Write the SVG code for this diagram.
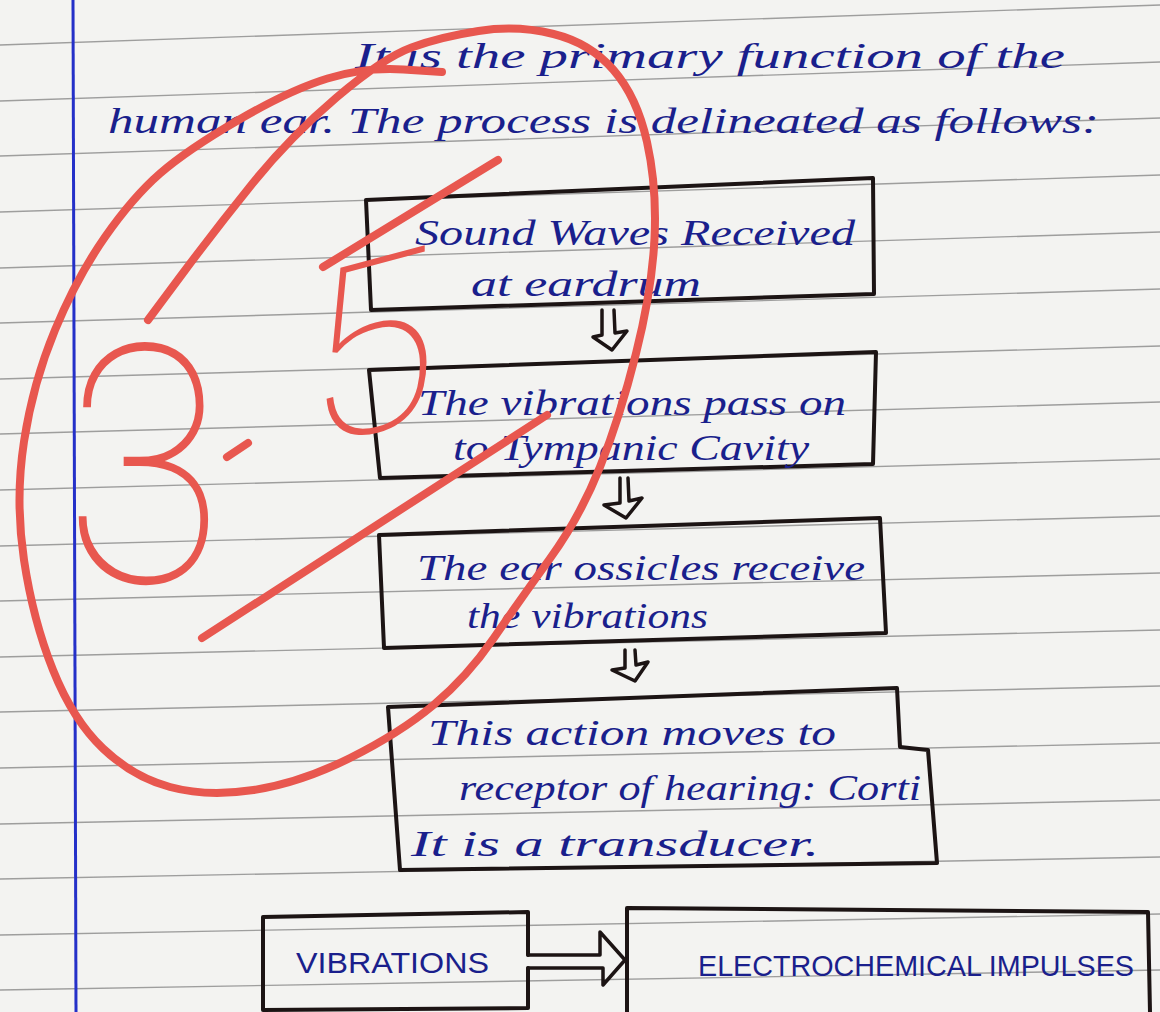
<svg xmlns="http://www.w3.org/2000/svg" width="1160" height="1012" viewBox="0 0 1160 1012">
<defs>
<style>
.rule{stroke:#8e8e8e;stroke-width:1.4;fill:none;opacity:.85}
.margin{stroke:#2430c8;stroke-width:3;fill:none}
.box{fill:none;stroke:#1c1414;stroke-width:4;stroke-linejoin:round;stroke-linecap:round}
.arr{fill:none;stroke:#1c1414;stroke-width:3.5;stroke-linejoin:round;stroke-linecap:round}
.ink{font-family:"Liberation Serif","DejaVu Serif",serif;font-style:italic;font-size:36px;fill:#1a1f8c}
.caps{font-family:"Liberation Sans","DejaVu Sans",sans-serif;font-size:30px;fill:#1a1f8c}
.red{fill:none;stroke:#e8574f;stroke-width:8;stroke-linecap:round;stroke-linejoin:round}
.redtxt{font-family:Roboto,Lato,Inter,sans-serif;font-weight:100;fill:#e8574f}
</style>
</defs>
<rect width="1160" height="1012" fill="#f3f3f1"/>
<g id="ruled-lines">
<line class="rule" x1="0" y1="45" x2="1160" y2="5"/>
<line class="rule" x1="0" y1="101" x2="1160" y2="62"/>
<line class="rule" x1="0" y1="156" x2="1160" y2="118"/>
<line class="rule" x1="0" y1="212" x2="1160" y2="175"/>
<line class="rule" x1="0" y1="268" x2="1160" y2="232"/>
<line class="rule" x1="0" y1="323" x2="1160" y2="289"/>
<line class="rule" x1="0" y1="379" x2="1160" y2="346"/>
<line class="rule" x1="0" y1="434" x2="1160" y2="402"/>
<line class="rule" x1="0" y1="490" x2="1160" y2="459"/>
<line class="rule" x1="0" y1="546" x2="1160" y2="516"/>
<line class="rule" x1="0" y1="601" x2="1160" y2="573"/>
<line class="rule" x1="0" y1="657" x2="1160" y2="630"/>
<line class="rule" x1="0" y1="712" x2="1160" y2="686"/>
<line class="rule" x1="0" y1="768" x2="1160" y2="743"/>
<line class="rule" x1="0" y1="824" x2="1160" y2="800"/>
<line class="rule" x1="0" y1="879" x2="1160" y2="857"/>
<line class="rule" x1="0" y1="935" x2="1160" y2="914"/>
<line class="rule" x1="0" y1="990" x2="1160" y2="970"/>
</g>
<path class="margin" d="M73,0 L76,1012"/>

<g id="intro">
<text class="ink" x="355" y="68" textLength="710" lengthAdjust="spacingAndGlyphs">It is the primary function of the</text>
<text class="ink" x="108" y="133" textLength="991" lengthAdjust="spacingAndGlyphs">human ear. The process is delineated as follows:</text>
</g>

<g id="node-sound-waves">
<path class="box" d="M366,200 L873,178 L874,294 L371,310 Z"/>
<text class="ink" x="415" y="245" textLength="440" lengthAdjust="spacingAndGlyphs">Sound Waves Received</text>
<text class="ink" x="471" y="296" textLength="230" lengthAdjust="spacingAndGlyphs">at eardrum</text>
</g>

<g id="node-tympanic">
<path class="box" d="M369,370 L876,352 L873,464 L380,478 Z"/>
<text class="ink" x="418" y="415" textLength="428" lengthAdjust="spacingAndGlyphs">The vibrations pass on</text>
<text class="ink" x="453" y="460" textLength="356" lengthAdjust="spacingAndGlyphs">to Tympanic Cavity</text>
</g>

<g id="node-ossicles">
<path class="box" d="M379,535 L880,518 L886,633 L384,648 Z"/>
<text class="ink" x="417" y="580" textLength="448" lengthAdjust="spacingAndGlyphs">The ear ossicles receive</text>
<text class="ink" x="467" y="628" textLength="241" lengthAdjust="spacingAndGlyphs">the vibrations</text>
</g>

<g id="node-corti">
<path class="box" d="M388,707 L897,688 L900,747 L928,750 L937,863 L400,870 Z"/>
<text class="ink" x="428" y="745" textLength="408" lengthAdjust="spacingAndGlyphs">This action moves to</text>
<text class="ink" x="459" y="800" textLength="462" lengthAdjust="spacingAndGlyphs">receptor of hearing: Corti</text>
<text class="ink" x="411" y="856" textLength="408" lengthAdjust="spacingAndGlyphs">It is a transducer.</text>
</g>

<g id="node-vibrations">
<path class="box" d="M528,955 L528,912 L263,917 L263,1010 L528,1008 L528,968"/>
<text class="caps" x="296" y="973" textLength="193" lengthAdjust="spacingAndGlyphs">VIBRATIONS</text>
</g>

<g id="node-impulses">
<path class="box" d="M627,1012 L627,908 L1148,912 L1150,1012"/>
<text class="caps" x="698" y="976" textLength="436" lengthAdjust="spacingAndGlyphs">ELECTROCHEMICAL IMPULSES</text>
</g>

<g id="connectors">
<path class="arr" d="M602,310 L602,335 L593,337 L612,350 L627,331 L615,333 L614,310"/>
<path class="arr" d="M620,478 L620,503 L604,505 L626,518 L642,498 L629,501 L628,478"/>
<path class="arr" d="M625,650 L625,668 L612,670 L635,681 L648,662 L636,665 L635,650"/>
<path class="arr" d="M528,955 L600,955 L600,932 L625,960 L603,985 L603,968 L528,968"/>
</g>

<g id="grade-annotation">
<path class="red" d="M148,320 L181.5,275 Q215,230 252.5,183.5 Q290,137 336.5,97.5 Q383,58 411.5,47.5 Q440,37 478.5,31 Q517,25 553.5,34 Q590,43 613.5,70 Q637,97 647,142 Q657,187 654.5,238.5 Q652,290 636,353.5 Q620,417 600,467 Q580,517 550,558.5 Q520,600 493.5,638.5 Q467,677 433.5,705 Q400,733 350,758 Q300,783 253.5,790 Q207,797 170,787 Q133,777 103,748.5 Q73,720 53,670 Q33,620 24,560 Q15,500 24,441.5 Q33,383 55,330 Q77,277 105,237 Q133,197 160,173.5 Q187,150 238.5,120 Q290,90 327.5,78.5 Q365,67 403.5,69.5 L442,72"/>
<text class="redtxt" font-size="333" transform="translate(64,582) scale(0.88,1)">3</text>
<path class="red" d="M227,457 L248,443"/>
<path class="red" d="M498,160 L323,267"/>
<text class="redtxt" font-size="243" transform="translate(305,450) skewY(-15)">5</text>
<path class="red" d="M547,415 L202,638"/>
</g>
</svg>
